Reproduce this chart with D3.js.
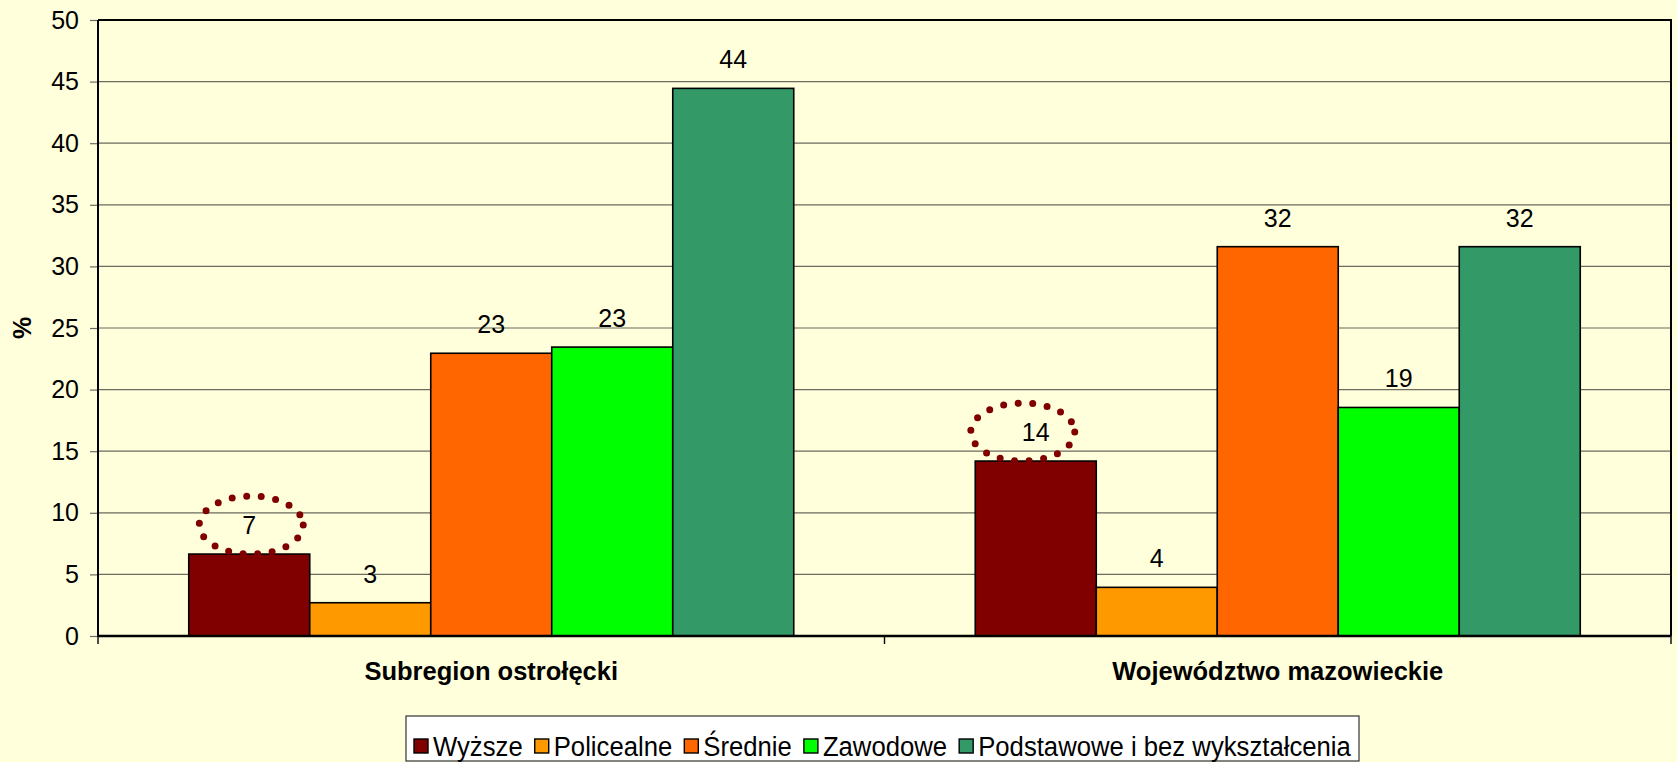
<!DOCTYPE html>
<html>
<head>
<meta charset="utf-8">
<script src="https://cdn.jsdelivr.net/npm/d3@7"></script>
<style>
  html, body { margin: 0; padding: 0; background: #FFFFDC; }
  svg { display: block; font-family: "Liberation Sans", Arial, sans-serif; }
</style>
</head>
<body>
<div id="chart"></div>
<script>
// Chart data
const categories = ["Subregion ostrołęcki", "Województwo mazowieckie"];
const seriesNames = ["Wyższe", "Policealne", "Średnie", "Zawodowe", "Podstawowe i bez wykształcenia"];
const seriesColors = ["#800000", "#FF9900", "#FF6600", "#00FF00", "#339966"];
const subregionValues = [6.65, 2.7, 22.95, 23.45, 44.45];
const mazowieckieValues = [14.2, 3.95, 31.6, 18.55, 31.6];
const yTicks = [0, 5, 10, 15, 20, 25, 30, 35, 40, 45, 50];
const circledSeries = ["Wyższe"];
// hand-drawn ellipses are not exactly centred on their bars
const ellipseShift = [2, -13];

const width = 1677, height = 762;
const margin = { top: 20, right: 6, bottom: 126, left: 98 };

const svg = d3.select("#chart")
    .append("svg")
    .attr("width", width)
    .attr("height", height);

svg.append("rect")
    .attr("width", width)
    .attr("height", height)
    .attr("fill", "#FFFFDC");

// Build rows for drawing
const valuesByCategory = [subregionValues, mazowieckieValues];
const rows = [];
categories.forEach((c, ci) => {
    seriesNames.forEach((s, si) => {
        rows.push({ category: c, ci: ci, series: s, value: valuesByCategory[ci][si], color: seriesColors[si] });
    });
});

// Scales
const x0 = d3.scaleBand()
    .domain(categories)
    .range([margin.left, width - margin.right]);

const x1 = d3.scaleBand()
    .domain(seriesNames)
    .range([0, x0.bandwidth()])
    .paddingOuter(0.75);

const y = d3.scaleLinear()
    .domain([0, 50])
    .range([height - margin.bottom, margin.top]);

// Gridlines
svg.append("g")
    .selectAll("line")
    .data(yTicks.filter(t => t > 0))
    .join("line")
    .attr("x1", margin.left)
    .attr("x2", width - margin.right)
    .attr("y1", d => y(d))
    .attr("y2", d => y(d))
    .attr("stroke", "#6b6b60")
    .attr("stroke-width", 1.2);

// Y axis
const yAxis = svg.append("g")
    .attr("transform", `translate(${margin.left},0)`)
    .call(d3.axisLeft(y).tickValues(yTicks).tickSize(8).tickPadding(11).tickFormat(d3.format("d")));
yAxis.select(".domain").remove();
yAxis.selectAll(".tick line").attr("stroke", "#6b6b60").attr("stroke-width", 1.2);
yAxis.selectAll(".tick text")
    .attr("font-size", 25)
    .attr("fill", "#000")
    .attr("font-family", "Liberation Sans, Arial, sans-serif");

// Y title
svg.append("text")
    .attr("transform", `translate(31,${(y(0) + y(50)) / 2}) rotate(-90)`)
    .attr("text-anchor", "middle")
    .attr("font-size", 25)
    .attr("font-weight", "bold")
    .text("%");

// Bars
svg.append("g")
    .selectAll("rect")
    .data(rows)
    .join("rect")
    .attr("x", d => x0(d.category) + x1(d.series))
    .attr("y", d => y(d.value))
    .attr("width", x1.bandwidth())
    .attr("height", d => y(0) - y(d.value))
    .attr("fill", d => d.color)
    .attr("stroke", "#000")
    .attr("stroke-width", 1.6);

// Value labels
svg.append("g")
    .selectAll("text")
    .data(rows)
    .join("text")
    .attr("x", d => x0(d.category) + x1(d.series) + x1.bandwidth() / 2)
    .attr("y", d => y(d.value) - 20)
    .attr("text-anchor", "middle")
    .attr("font-size", 25)
    .text(d => d3.format(".0f")(d.value));

// Dotted ellipses around highlighted labels
svg.append("g")
    .selectAll("ellipse")
    .data(rows.filter(d => circledSeries.includes(d.series)))
    .join("ellipse")
    .attr("cx", d => x0(d.category) + x1(d.series) + x1.bandwidth() / 2 + ellipseShift[d.ci])
    .attr("cy", d => y(d.value) - 29)
    .attr("rx", 52)
    .attr("ry", 29)
    .attr("fill", "none")
    .attr("stroke", "#800000")
    .attr("stroke-width", 7)
    .attr("stroke-linecap", "round")
    .attr("stroke-dasharray", "0 14.6");

// Plot border (top and right)
svg.append("path")
    .attr("d", `M${margin.left},${margin.top}H${width - margin.right}V${y(0)}`)
    .attr("fill", "none")
    .attr("stroke", "#000")
    .attr("stroke-width", 2);

// Left axis line
svg.append("line")
    .attr("x1", margin.left).attr("x2", margin.left)
    .attr("y1", margin.top).attr("y2", y(0))
    .attr("stroke", "#000").attr("stroke-width", 2);

// X axis
const xAxis = svg.append("g")
    .attr("transform", `translate(0,${y(0)})`);
xAxis.append("line")
    .attr("x1", margin.left).attr("x2", width - margin.right)
    .attr("stroke", "#000").attr("stroke-width", 2.4);
xAxis.selectAll(".xtick")
    .data([...categories.map(c => x0(c)), width - margin.right])
    .join("line")
    .attr("x1", d => d).attr("x2", d => d)
    .attr("y1", 0).attr("y2", 8)
    .attr("stroke", "#000").attr("stroke-width", 1.4);
xAxis.selectAll(".xlabel")
    .data(categories)
    .join("text")
    .attr("x", d => x0(d) + x0.bandwidth() / 2)
    .attr("y", 44)
    .attr("text-anchor", "middle")
    .attr("font-size", 25.5)
    .attr("font-weight", "bold")
    .text(d => d);

// Legend
const legendBox = { x: 406, y: 716, w: 953, h: 45 };
const legend = svg.append("g");
legend.append("rect")
    .attr("x", legendBox.x).attr("y", legendBox.y)
    .attr("width", legendBox.w).attr("height", legendBox.h)
    .attr("fill", "#FFFFFF")
    .attr("stroke", "#333").attr("stroke-width", 1.2);

const items = legend.selectAll("g.item")
    .data(seriesNames.map((s, i) => ({ name: s, color: seriesColors[i] })))
    .join("g")
    .attr("class", "item");

const texts = items.append("text")
    .attr("font-size", 28)
    .attr("y", 0)
    .text(d => d.name);

const widths = texts.nodes().map(n => n.getComputedTextLength());
const sw = 14, swGap = 5, itemGap = 12, pad = 8;
const rawTotal = d3.sum(widths);
const fixed = seriesNames.length * (sw + swGap) + (seriesNames.length - 1) * itemGap + 2 * pad;
const sx = Math.min(1, (legendBox.w - fixed) / rawTotal);

let cursor = legendBox.x + pad;
items.each(function (d, i) {
    const g = d3.select(this);
    g.append("rect")
        .attr("x", cursor).attr("y", 739)
        .attr("width", sw).attr("height", sw)
        .attr("fill", d.color)
        .attr("stroke", "#000").attr("stroke-width", 1.4);
    g.select("text")
        .attr("transform", `translate(${cursor + sw + swGap},756) scale(${sx},1)`);
    cursor += sw + swGap + widths[i] * sx + itemGap;
});
</script>
</body>
</html>
